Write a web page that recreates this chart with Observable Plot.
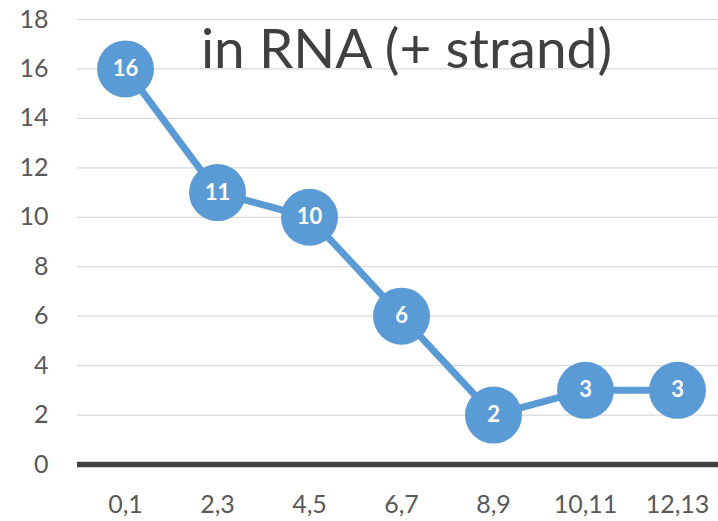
<!DOCTYPE html>
<html>
<head>
<meta charset="utf-8">
<script src="https://cdn.jsdelivr.net/npm/d3@7"></script>
<script src="https://cdn.jsdelivr.net/npm/@observablehq/plot@0.6"></script>
<style>
  html, body { margin: 0; padding: 0; background: #fff; }
  #chart { position: relative; width: 718px; height: 521px; overflow: hidden; }
</style>
</head>
<body>
<div id="chart"></div>
<script>
const categories = ["0,1", "2,3", "4,5", "6,7", "8,9", "10,11", "12,13"];
const counts = [16, 11, 10, 6, 2, 3, 3];
const yTicks = [0, 2, 4, 6, 8, 10, 12, 14, 16, 18];
const titleLine = "in RNA (+ strand)";

const data = categories.map((c, i) => ({cat: c, value: counts[i]}));
const blue = "#5B9BD5";
const font = "Lato, 'Open Sans', sans-serif";

const chart = Plot.plot({
  width: 718,
  height: 521,
  marginLeft: 77,
  marginRight: 0,
  marginTop: 19,
  marginBottom: 57,
  style: {fontFamily: font, fontSize: "25px", color: "#595959", background: "#fff", overflow: "visible"},
  x: {type: "point", domain: categories, range: [123, 678], padding: 0},
  y: {domain: [0, 18]},
  marks: [
    Plot.ruleY(yTicks.filter(d => d > 0), {stroke: "#d9d9d9", strokeWidth: 1.2}),
    Plot.ruleY([0], {stroke: "#404040", strokeWidth: 5.5}),
    Plot.axisY({ticks: yTicks, tickSize: 0, tickPadding: 29, label: null, fill: "#595959", fontSize: 25}),
    Plot.axisX({tickSize: 0, tickPadding: 31, label: null, fill: "#595959", fontSize: 25}),
    Plot.text([titleLine], {frameAnchor: "top-left", lineAnchor: "bottom", textAnchor: "middle", dx: 329, dy: 48, fontSize: 55, fill: "#404040"}),
    Plot.line(data, {x: "cat", y: "value", stroke: blue, strokeWidth: 7}),
    Plot.dot(data, {x: "cat", y: "value", r: 28.5, fill: blue, stroke: "none"}),
    Plot.text(data, {x: "cat", y: "value", text: d => String(d.value), fill: "white", fontWeight: "bold", fontSize: 22})
  ]
});
document.getElementById("chart").appendChild(chart);
</script>
</body>
</html>
